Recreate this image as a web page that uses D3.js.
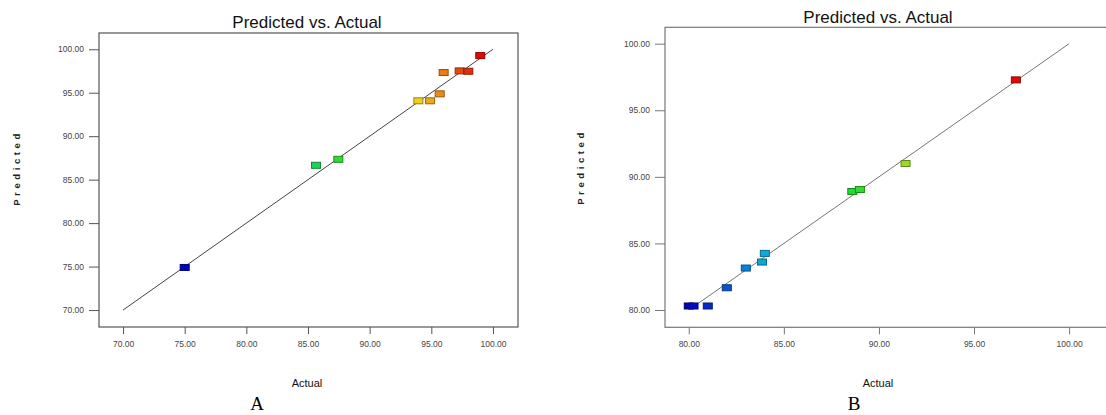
<!DOCTYPE html>
<html>
<head>
<meta charset="utf-8">
<script src="https://cdn.jsdelivr.net/npm/d3@7"></script>
<style>
  body { margin: 0; background: #fff; }
  svg { display: block; font-family: "Liberation Sans", Arial, sans-serif; }
</style>
</head>
<body>
<div id="chart"></div>
<script>
// panel A data
const actualA    = [75.0, 85.65, 87.46, 93.95, 94.9, 95.68, 96.0, 97.3, 98.0, 98.97];
const predictedA = [74.9, 86.65, 87.34, 94.07, 94.07, 94.87, 97.32, 97.51, 97.47, 99.27];
const ticksA = [70, 75, 80, 85, 90, 95, 100];

// panel B data
const actualB    = [80.0, 80.25, 81.0, 82.0, 83.0, 83.85, 84.0, 88.6, 89.0, 91.4, 97.2];
const predictedB = [80.3, 80.3, 80.3, 81.67, 83.15, 83.6, 84.25, 88.9, 89.05, 91.0, 97.28];
const ticksB = [80, 85, 90, 95, 100];

const width = 1106, height = 415;

const svg = d3.select("#chart").append("svg")
    .attr("width", width)
    .attr("height", height);

const fmt = d3.format(".2f");

function drawPanel(p) {
    const x = d3.scaleLinear().domain(p.xDomain).range([p.left, p.right]);
    const y = d3.scaleLinear().domain(p.yDomain).range([p.bottom, p.top]);

    // colour by actual value: blue -> cyan -> green -> yellow -> red
    const ext = d3.extent(p.actual);
    const color = d3.scaleLinear()
        .domain([0, 0.25, 0.5, 0.78, 1].map(t => ext[0] + (ext[1] - ext[0]) * t))
        .range(["#0000c0", "#10b8e0", "#20dc30", "#f2d820", "#e00808"]);

    const g = svg.append("g");

    // frame
    g.append("rect")
        .attr("x", p.left).attr("y", p.top)
        .attr("width", p.right - p.left).attr("height", p.bottom - p.top)
        .attr("fill", "none")
        .attr("stroke", p.frame)
        .attr("stroke-width", 1.2);

    // axes
    const yAx = g.append("g")
        .attr("transform", `translate(${p.left},0)`)
        .call(d3.axisLeft(y).tickValues(p.ticks).tickSize(10).tickPadding(5).tickFormat(fmt));
    const xAx = g.append("g")
        .attr("transform", `translate(0,${p.bottom})`)
        .call(d3.axisBottom(x).tickValues(p.ticks).tickSize(7).tickPadding(7).tickFormat(fmt));
    [yAx, xAx].forEach(a => {
        a.select(".domain").remove();
        a.selectAll("line").attr("stroke", p.frame);
        a.selectAll("text")
            .attr("fill", "#444")
            .style("font-size", "8.5px")
            .style("font-family", "'Liberation Sans', Arial, sans-serif");
    });

    // 1:1 line
    const lo = p.ticks[0], hi = p.ticks[p.ticks.length - 1];
    g.append("line")
        .attr("x1", x(lo)).attr("y1", y(lo))
        .attr("x2", x(hi)).attr("y2", y(hi))
        .attr("stroke", p.lineColor)
        .attr("stroke-width", 1);

    // points
    const pts = p.actual.map((a, i) => ({ a: a, p: p.predicted[i] }));
    g.selectAll("rect.pt")
        .data(pts)
        .enter()
        .append("rect")
        .attr("class", "pt")
        .attr("x", d => x(d.a) - 4.5)
        .attr("y", d => y(d.p) - 3)
        .attr("width", 9)
        .attr("height", 6)
        .attr("fill", d => color(d.a))
        .attr("stroke", d => d3.color(color(d.a)).darker(1.3))
        .attr("stroke-width", 1);

    // title
    g.append("text")
        .attr("x", p.titleX).attr("y", p.titleY)
        .attr("text-anchor", "middle")
        .attr("fill", "#111")
        .style("font-size", "17px")
        .text("Predicted vs. Actual");

    // axis labels
    g.append("text")
        .attr("transform", `translate(${p.yLabelX},${p.yLabelY}) rotate(-90)`)
        .attr("text-anchor", "middle")
        .attr("fill", "#222")
        .style("font-size", "9.5px")
        .style("font-weight", "bold")
        .style("letter-spacing", "3.6px")
        .text("Predicted");
    g.append("text")
        .attr("x", p.xLabelX).attr("y", 387)
        .attr("text-anchor", "middle")
        .attr("fill", "#111")
        .style("font-size", "11px")
        .text("Actual");

    // panel letter
    g.append("text")
        .attr("x", p.letterX).attr("y", 410)
        .attr("text-anchor", "middle")
        .attr("fill", "#000")
        .style("font-family", "'Liberation Serif', 'Times New Roman', serif")
        .style("font-size", "19px")
        .text(p.letter);
}

drawPanel({
    actual: actualA, predicted: predictedA, ticks: ticksA,
    xDomain: [68.05, 102.03], yDomain: [68.05, 101.87],
    left: 99, right: 518, top: 33, bottom: 327,
    frame: "#555", lineColor: "#444",
    titleX: 307, titleY: 28, yLabelX: 20, yLabelY: 168,
    xLabelX: 307, letterX: 257, letter: "A"
});

drawPanel({
    actual: actualB, predicted: predictedB, ticks: ticksB,
    xDomain: [78.75, 102.15], yDomain: [78.7, 101.23],
    left: 665, right: 1110, top: 27.3, bottom: 327.3,
    frame: "#777", lineColor: "#777",
    titleX: 878, titleY: 22.5, yLabelX: 584, yLabelY: 167,
    xLabelX: 878, letterX: 854, letter: "B"
});
</script>
</body>
</html>
